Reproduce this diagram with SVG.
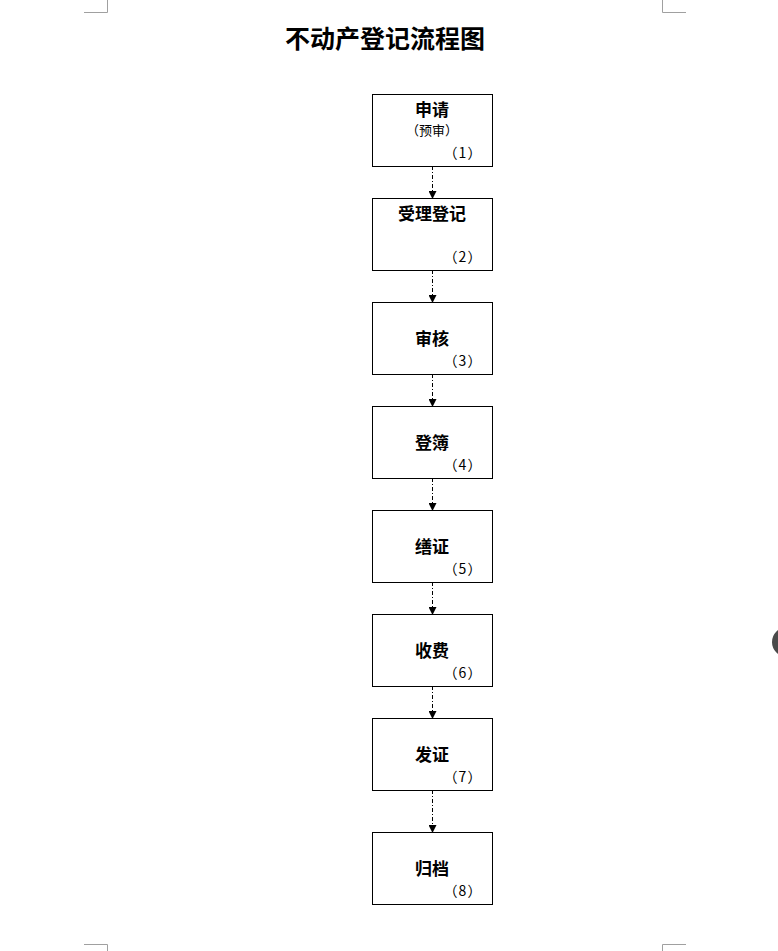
<svg xmlns="http://www.w3.org/2000/svg" width="778" height="951" viewBox="0 0 778 951">
<defs>
<style>
.box{fill:#fff;stroke:#000;stroke-width:1}
.lbl{font-family:"Noto Sans CJK SC","Noto Sans CJK TC",sans-serif;font-size:17px;font-weight:bold;fill:#000;text-anchor:middle}
.sub{font-family:"Noto Sans CJK SC",sans-serif;font-size:13px;fill:#000;text-anchor:middle}
.num{font-family:"Noto Sans CJK SC",sans-serif;font-size:14px;fill:#000;text-anchor:middle;letter-spacing:1px}
.title{font-family:"Noto Sans CJK SC",sans-serif;font-size:25px;font-weight:bold;fill:#000;text-anchor:middle}
.con{stroke:#000;stroke-width:1;stroke-dasharray:4 2 1 2;fill:none}
.crop{stroke:#a0a0a0;stroke-width:1;fill:none}
</style>
<marker id="arr" markerWidth="8" markerHeight="8" refX="7" refY="4" orient="auto" markerUnits="userSpaceOnUse">
<path d="M0,0 L8,4 L0,8 Z" fill="#000"/>
</marker>
</defs>
<rect width="778" height="951" fill="#fff"/>
<g id="cropmarks">
<path class="crop" d="M107.5,0 V12.5 H84"/>
<path class="crop" d="M662.5,0 V12.5 H686"/>
<path class="crop" d="M84,944.5 H107.5 V951"/>
<path class="crop" d="M686,944.5 H662.5 V951"/>
</g>
<circle cx="787" cy="642" r="15" fill="#4a4a4a"/>
<text class="title" x="385" y="48">不动产登记流程图</text>
<g id="connectors">
<line class="con" x1="432.5" y1="166" x2="432.5" y2="198" marker-end="url(#arr)"/>
<line class="con" x1="432.5" y1="270" x2="432.5" y2="302" marker-end="url(#arr)"/>
<line class="con" x1="432.5" y1="374" x2="432.5" y2="406" marker-end="url(#arr)"/>
<line class="con" x1="432.5" y1="478" x2="432.5" y2="510" marker-end="url(#arr)"/>
<line class="con" x1="432.5" y1="582" x2="432.5" y2="614" marker-end="url(#arr)"/>
<line class="con" x1="432.5" y1="686" x2="432.5" y2="718" marker-end="url(#arr)"/>
<line class="con" x1="432.5" y1="790" x2="432.5" y2="832" marker-end="url(#arr)"/>
</g>
<g id="n1"><rect class="box" x="372.5" y="94.5" width="120" height="72"/><text class="lbl" x="432" y="116">申请</text><text class="sub" x="432" y="135">（预审）</text><text class="num" x="463" y="158">（1）</text></g>
<g id="n2"><rect class="box" x="372.5" y="198.5" width="120" height="72"/><text class="lbl" x="432" y="220">受理登记</text><text class="num" x="463" y="262">（2）</text></g>
<g id="n3"><rect class="box" x="372.5" y="302.5" width="120" height="72"/><text class="lbl" x="432" y="345">审核</text><text class="num" x="463" y="366">（3）</text></g>
<g id="n4"><rect class="box" x="372.5" y="406.5" width="120" height="72"/><text class="lbl" x="432" y="449">登簿</text><text class="num" x="463" y="470">（4）</text></g>
<g id="n5"><rect class="box" x="372.5" y="510.5" width="120" height="72"/><text class="lbl" x="432" y="553">缮证</text><text class="num" x="463" y="574">（5）</text></g>
<g id="n6"><rect class="box" x="372.5" y="614.5" width="120" height="72"/><text class="lbl" x="432" y="657">收费</text><text class="num" x="463" y="678">（6）</text></g>
<g id="n7"><rect class="box" x="372.5" y="718.5" width="120" height="72"/><text class="lbl" x="432" y="761">发证</text><text class="num" x="463" y="782">（7）</text></g>
<g id="n8"><rect class="box" x="372.5" y="832.5" width="120" height="72"/><text class="lbl" x="432" y="875">归档</text><text class="num" x="463" y="896">（8）</text></g>
</svg>
